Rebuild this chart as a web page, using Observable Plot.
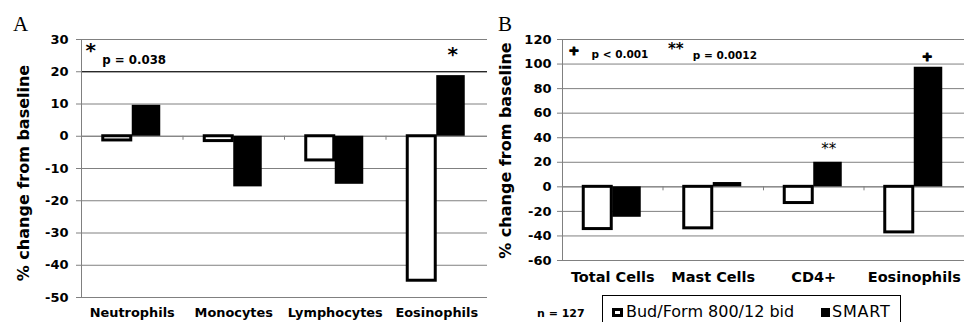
<!DOCTYPE html>
<html>
<head>
<meta charset="utf-8">
<script src="https://cdn.jsdelivr.net/npm/d3@7"></script>
<script src="https://cdn.jsdelivr.net/npm/@observablehq/plot@0.6"></script>
<style>
  body { margin: 0; background: #fff; }
  #wrap { position: relative; width: 964px; height: 322px; overflow: hidden; font-family: "DejaVu Sans", sans-serif; color: #000; }
  .abs { position: absolute; white-space: nowrap; }
  .panel-letter { font-family: "Liberation Serif", serif; font-size: 21px; line-height: 21px; }
</style>
</head>
<body>
<div id="wrap"></div>
<script>
// ---------- data ----------
const seriesNames = ["Bud/Form 800/12 bid", "SMART"];

const categoriesA = ["Neutrophils", "Monocytes", "Lymphocytes", "Eosinophils"];
const budA = [-1.3, -1.5, -7.5, -44.8];
const smartA = [9.6, -15.7, -14.9, 18.8];
const yTicksA = [30, 20, 10, 0, -10, -20, -30, -40, -50];

const categoriesB = ["Total Cells", "Mast Cells", "CD4+", "Eosinophils"];
const budB = [-34.4, -33.8, -13.2, -37.1];
const smartB = [-24.8, 3.5, 20.0, 97.4];
const yTicksB = [120, 100, 80, 60, 40, 20, 0, -20, -40, -60];

const yTitle = "% change from baseline";
const pNoteA = ["*", "p = 0.038"];
const pNoteB = ["+", "p < 0.001", "**", "p = 0.0012"];
const sigA = [{category: "Eosinophils", series: "SMART", mark: "*"}];
const sigB = [{category: "CD4+", series: "SMART", mark: "**"}, {category: "Eosinophils", series: "SMART", mark: "+"}];
const nLabel = "n = 127";

// ---------- helpers ----------
function rows(cats, bud, smart) {
  return cats.flatMap((c, i) => [
    {category: c, series: seriesNames[0], value: bud[i]},
    {category: c, series: seriesNames[1], value: smart[i]}
  ]);
}
function sigRows(sig, data) {
  return sig.map(s => ({...s, value: data.find(d => d.category === s.category && d.series === s.series).value}));
}

const wrap = document.getElementById("wrap");
const grid = "#808080";

function panel(cfg) {
  const data = rows(cfg.cats, cfg.bud, cfg.smart);
  const s = (cfg.width - cfg.ml - cfg.mr) / cfg.cats.length;
  const budRows = data.filter(d => d.series === seriesNames[0]);
  const smartRows = data.filter(d => d.series === seriesNames[1]);
  const yMin = d3.min(cfg.yTicks), yMax = d3.max(cfg.yTicks);
  const marks = [
    Plot.gridY(cfg.yTicks, {stroke: grid, strokeOpacity: 1}),
    ...(cfg.darkLines || []).map(v => Plot.ruleY([v], {stroke: "#000"})),
    Plot.ruleY([0], {stroke: grid}),
    Plot.ruleX([cfg.cats[0]], {x: d => d, y1: yMin, y2: yMax, dx: -s / 2, stroke: grid}),
    Plot.ruleX(cfg.cats.slice(1), {x: d => d, y1: 0, y2: 0, insetBottom: -4, dx: -s / 2, stroke: grid}),
    Plot.axisY({ticks: cfg.yTicks, tickFormat: d => String(d), tickSize: 5, tickPadding: cfg.tickPad, fontSize: 13, fontWeight: "bold", stroke: grid, fill: "#000", label: null}),
    Plot.axisX({tickSize: 0, tickPadding: cfg.xPad, fontSize: cfg.xFont, fontWeight: "bold", fill: "#000", label: null}),
    Plot.barY(smartRows, {x: "category", y: "value", fill: "#000", insetLeft: s / 2, insetRight: s / 2 - 28.5}),
    Plot.barY(budRows, {x: "category", y: "value", fill: "#fff", stroke: "#000", strokeWidth: 3, insetLeft: s / 2 - 29, insetRight: s / 2 + 1}),
    Plot.text([yTitle], {text: d => d, frameAnchor: "left", textAnchor: "middle", lineAnchor: "middle", rotate: -90, dx: cfg.titleDx, dy: cfg.titleDy, fontSize: 16, fontWeight: "bold", fill: "#000"}),
    ...cfg.extra(sigRows(cfg.sig, data))
  ];
  const svg = Plot.plot({
    width: cfg.width, height: 322,
    marginLeft: cfg.ml, marginRight: cfg.mr, marginTop: cfg.mt, marginBottom: cfg.mb,
    style: {background: "transparent", fontFamily: "DejaVu Sans", overflow: "visible", color: "#000"},
    x: {domain: cfg.cats, padding: 0, round: false, axis: null},
    y: {domain: [yMin, yMax], axis: null},
    marks
  });
  svg.style.position = "absolute";
  svg.style.left = cfg.left + "px";
  svg.style.top = "0px";
  return svg;
}

const svgA = panel({
  cats: categoriesA, bud: budA, smart: smartA, yTicks: yTicksA, sig: sigA,
  width: 487, left: 0, ml: 81, mr: 0, mt: 39, mb: 25, tickPad: 8, xFont: 12.9, xPad: 10.5,
  titleDx: -58, titleDy: 4.5, darkLines: [20],
  extra: sig => [
    Plot.text([pNoteA[0]], {text: d => d, frameAnchor: "top-left", textAnchor: "start", lineAnchor: "top", dx: 4, dy: 3.7, fontSize: 20, fontWeight: "bold", fill: "#000"}),
    Plot.text([pNoteA[1]], {text: d => d, frameAnchor: "top-left", textAnchor: "start", lineAnchor: "top", dx: 20.7, dy: 15.7, fontSize: 11.8, fontWeight: "bold", fill: "#000"}),
    Plot.text(sig, {x: "category", y: "value", text: "mark", lineAnchor: "top", dx: 16, dy: -29, fontSize: 20, fontWeight: "bold", fill: "#000"})
  ]
});

const svgB = panel({
  cats: categoriesB, bud: budB, smart: smartB, yTicks: yTicksB, sig: sigB,
  width: 484, left: 480, ml: 82, mr: 0, mt: 39, mb: 62, tickPad: 6, xFont: 14.5, xPad: 11,
  titleDx: -57, titleDy: 0.5,
  extra: sig => [
    Plot.text([pNoteB[0]], {text: d => d, frameAnchor: "top-left", textAnchor: "start", lineAnchor: "middle", dx: 6, dy: 11, fontSize: 13, fontWeight: "bold", fill: "#000", stroke: "#000", strokeWidth: 1.2}),
    Plot.text([pNoteB[1]], {text: d => d, frameAnchor: "top-left", textAnchor: "start", lineAnchor: "top", dx: 29, dy: 10.6, fontSize: 10.5, fontWeight: "bold", fill: "#000"}),
    Plot.text([pNoteB[2]], {text: d => d, frameAnchor: "top-left", textAnchor: "start", lineAnchor: "top", dx: 105.5, dy: 4.3, fontSize: 15, fontWeight: "bold", fill: "#000"}),
    Plot.text([pNoteB[3]], {text: d => d, frameAnchor: "top-left", textAnchor: "start", lineAnchor: "top", dx: 130.3, dy: 12.3, fontSize: 10.5, fontWeight: "bold", fill: "#000"}),
    Plot.text(sig.filter(d => d.mark === "**"), {x: "category", y: "value", text: "mark", lineAnchor: "top", dx: 15, dy: -19, fontSize: 15, fill: "#000"}),
    Plot.text(sig.filter(d => d.mark === "+"), {x: "category", y: "value", text: "mark", lineAnchor: "middle", dx: 13, dy: -10.3, fontSize: 13, fontWeight: "bold", fill: "#000", stroke: "#000", strokeWidth: 1.2})
  ]
});

wrap.appendChild(svgA);
wrap.appendChild(svgB);

// ---------- panel letters, n, legend ----------
function addDiv(cls, text, css) {
  const d = document.createElement("div");
  d.className = "abs " + (cls || "");
  if (text != null) d.textContent = text;
  Object.assign(d.style, css);
  wrap.appendChild(d);
  return d;
}
addDiv("panel-letter", "A", {left: "13px", top: "14.4px"});
addDiv("panel-letter", "B", {left: "498px", top: "14.4px"});
addDiv("", nLabel, {left: "537px", top: "307.5px", fontSize: "11px", lineHeight: "11px", fontWeight: "bold"});

const legend = addDiv("", null, {left: "601.5px", top: "294.5px", width: "297px", height: "40px", border: "1.5px solid #000", background: "#fff"});
const sw1 = document.createElement("div");
Object.assign(sw1.style, {position: "absolute", left: "9.5px", top: "12.3px", width: "10.6px", height: "9.2px", border: "3px solid #000", boxSizing: "border-box", background: "#fff"});
legend.appendChild(sw1);
const t1 = document.createElement("div");
t1.textContent = seriesNames[0];
Object.assign(t1.style, {position: "absolute", left: "23.5px", top: "8.3px", fontSize: "16px", lineHeight: "16px", whiteSpace: "nowrap"});
legend.appendChild(t1);
const sw2 = document.createElement("div");
Object.assign(sw2.style, {position: "absolute", left: "218.5px", top: "12px", width: "9px", height: "9.5px", background: "#000"});
legend.appendChild(sw2);
const t2 = document.createElement("div");
t2.textContent = seriesNames[1];
Object.assign(t2.style, {position: "absolute", left: "229.5px", top: "8.3px", fontSize: "16px", lineHeight: "16px", whiteSpace: "nowrap", letterSpacing: "0.8px"});
legend.appendChild(t2);
</script>
</body>
</html>
